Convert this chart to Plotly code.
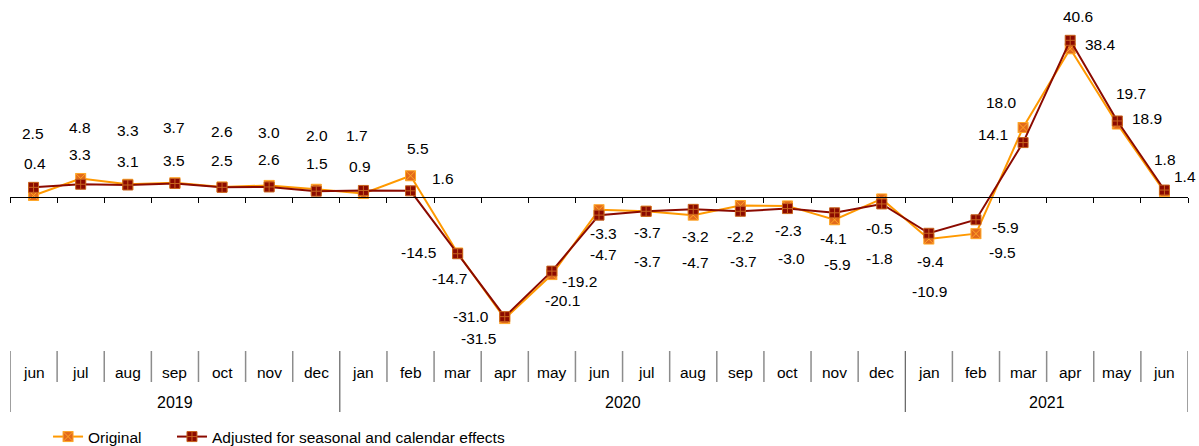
import plotly.graph_objects as go

# Month-by-month data, June 2019 - June 2021
months = ["jun", "jul", "aug", "sep", "oct", "nov", "dec",
          "jan", "feb", "mar", "apr", "may", "jun", "jul", "aug", "sep", "oct", "nov", "dec",
          "jan", "feb", "mar", "apr", "may", "jun"]
years = ["2019"] * 7 + ["2020"] * 12 + ["2021"] * 6

original = [0.4, 4.8, 3.3, 3.7, 2.6, 3.0, 2.0,
            0.9, 5.5, -14.5, -31.5, -20.1, -3.3, -3.7, -4.7, -2.2, -2.3, -5.9, -0.5,
            -10.9, -9.5, 18.0, 38.4, 18.9, 1.4]
adjusted = [2.5, 3.3, 3.1, 3.5, 2.5, 2.6, 1.5,
            1.7, 1.6, -14.7, -31.0, -19.2, -4.7, -3.7, -3.2, -3.7, -3.0, -4.1, -1.8,
            -9.4, -5.9, 14.1, 40.6, 19.7, 1.8]

# Pixel offsets (dx right, dy down) of each value label from its point
orig_label_off = [(1, -32), (-1, -51), (0, -54), (-1, -55), (0, -55), (0, -53), (1, -54),
                  (-3, -27), (7, -27), (-39, 0), (-26, 20), (11, 26), (4, 24), (1, 21),
                  (2, 47), (0, 31), (1, 25), (3, 45), (-2, 30), (1, 52), (27, 19),
                  (-22, -25), (30, -4), (30, -6), (21, -15)]
adj_label_off = [(-1, -54), (-1, -30), (0, -24), (-1, -23), (0, -27), (0, -27), (1, -28),
                 (-6, -55), (32, -12), (-8, 25), (-34, 0), (28, 10), (4, 39), (1, 50),
                 (2, 27), (3, 50), (4, 50), (-1, 26), (-2, 55), (2, 28), (30, 8),
                 (-30, -8), (8, -24), (14, -27), (1, -31)]

FONT = "Liberation Sans, Arial, sans-serif"
n = len(months)
x = list(range(n))

Y_MIN, Y_MAX = -37.05, 51.04
PLOT_H = 340  # plot-area height in px (margin top 0)


def paper_y(px):
    """Convert a pixel row (from top of figure) to paper y."""
    return (PLOT_H - px) / PLOT_H


fig = go.Figure()
fig.add_trace(go.Scatter(
    x=x, y=original, name="Original", mode="lines+markers",
    line=dict(color="#FF9900", width=2),
    marker=dict(symbol="square-x", size=10, color="#E2691C",
                line=dict(color="#FFA726", width=1)),
    legend="legend",
))
fig.add_trace(go.Scatter(
    x=x, y=adjusted, name="Adjusted for seasonal and calendar effects", mode="lines+markers",
    line=dict(color="#8B0A00", width=2),
    marker=dict(symbol="square-cross", size=10, color="#8B0A00",
                line=dict(color="#C8641E", width=1)),
    legend="legend2",
))

annotations = []
for series, offs in ((original, orig_label_off), (adjusted, adj_label_off)):
    for i, (v, (dx, dy)) in enumerate(zip(series, offs)):
        annotations.append(dict(
            x=i, y=v, xref="x", yref="y", text=f"{v:.1f}", showarrow=False,
            xshift=dx, yshift=-dy, xanchor="center", yanchor="middle",
            font=dict(family=FONT, size=15.5, color="#000000"),
        ))

# Month labels
for i, m in enumerate(months):
    annotations.append(dict(
        x=i, y=paper_y(372), xref="x", yref="paper", text=m, showarrow=False,
        xanchor="center", yanchor="middle",
        font=dict(family=FONT, size=15.5, color="#000000"),
    ))

# Year labels centred on their month span, plus separators
shapes = []
year_order = []
for yv in years:
    if yv not in year_order:
        year_order.append(yv)
year_bounds = []
for yv in year_order:
    idx = [i for i, v in enumerate(years) if v == yv]
    lo, hi = idx[0] - 0.5, idx[-1] + 0.5
    year_bounds += [lo, hi]
    annotations.append(dict(
        x=(lo + hi) / 2, y=paper_y(402), xref="x", yref="paper", text=yv, showarrow=False,
        xanchor="center", yanchor="middle",
        font=dict(family=FONT, size=16, color="#000000"),
    ))

for b in [i - 0.5 for i in range(n + 1)]:
    if b in year_bounds:
        shapes.append(dict(type="line", xref="x", yref="paper", x0=b, x1=b,
                           y0=paper_y(351), y1=paper_y(412),
                           line=dict(color="#404040", width=1)))
    else:
        shapes.append(dict(type="line", xref="x", yref="paper", x0=b, x1=b,
                           y0=paper_y(351), y1=paper_y(382),
                           line=dict(color="#8C8C8C", width=1.5)))

zero_pos = (0 - Y_MIN) / (Y_MAX - Y_MIN)

legend_style = dict(orientation="h", xanchor="left", y=paper_y(437), yanchor="middle",
                    font=dict(family=FONT, size=15.5, color="#000000"),
                    bgcolor="rgba(0,0,0,0)", itemwidth=30)

fig.update_layout(
    width=1199, height=446,
    margin=dict(l=10, r=11, t=0, b=106, autoexpand=False),
    paper_bgcolor="white", plot_bgcolor="white",
    font=dict(family=FONT, size=15.5, color="#000000"),
    xaxis=dict(
        range=[-0.5, n - 0.5], anchor="free", position=zero_pos,
        showline=True, linecolor="#000000", linewidth=1,
        ticks="outside", ticklen=5, tickcolor="#000000", tickwidth=1,
        tickvals=[i - 0.5 for i in range(n + 1)], showticklabels=False,
        showgrid=False, zeroline=False, fixedrange=True,
    ),
    yaxis=dict(range=[Y_MIN, Y_MAX], visible=False, showgrid=False,
               zeroline=False, fixedrange=True),
    showlegend=True,
    legend=dict(x=0.0323, **legend_style),
    legend2=dict(x=0.1375, **legend_style),
    annotations=annotations,
    shapes=shapes,
)

fig.write_html("out.html")
